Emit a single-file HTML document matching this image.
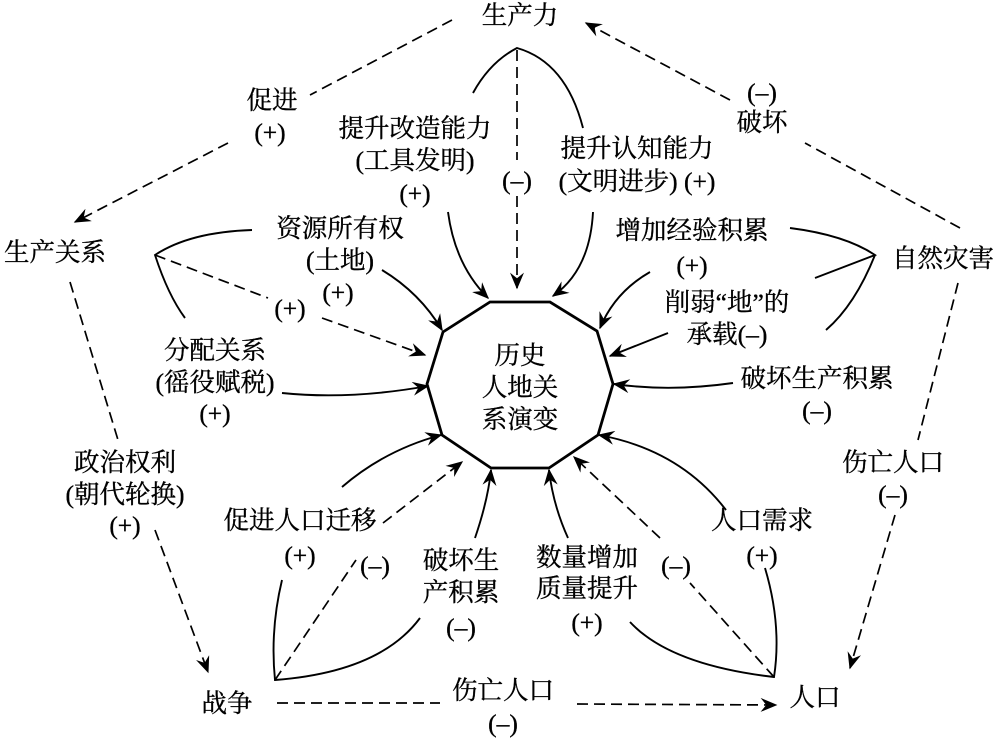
<!DOCTYPE html>
<html><head><meta charset="utf-8"><style>
html,body{margin:0;padding:0;background:#fff}
svg{display:block}
text{font-family:"Liberation Serif","Noto Serif CJK SC",serif;font-size:25.5px;fill:#000;stroke:#000;stroke-width:0.35;text-anchor:middle}
.s{fill:none;stroke:#000;stroke-width:1.9}
.d{fill:none;stroke:#000;stroke-width:1.7;stroke-dasharray:11 6}
</style></head><body>
<svg width="1000" height="738" viewBox="0 0 1000 738">
<defs>
<marker id="a" viewBox="0 0 12 10" refX="11" refY="5" markerWidth="17" markerHeight="14" markerUnits="userSpaceOnUse" orient="auto">
<path d="M0,0 L12,5 L0,10 L4,5 Z" fill="#000"/></marker>
</defs>
<polygon points="490,302 550,302 597,331 613,384 598,435 549,468 491,468 442,435 427,384 443,332" fill="none" stroke="#000" stroke-width="2.8"/>
<text x="520" y="364">历史</text>
<text x="520" y="396">人地关</text>
<text x="520" y="428">系演变</text>

<path class="d" d="M452,20 L310,95"/><path class="d" d="M228,143 L75,222" marker-end="url(#a)"/>
<path class="d" d="M960,228 L805,143"/><path class="d" d="M730,100 L586,23" marker-end="url(#a)"/>
<path class="d" d="M70,282 L118,440"/><path class="d" d="M155,530 L208,672" marker-end="url(#a)"/>
<path class="d" d="M958,283 L918,440"/><path class="d" d="M895,515 L850,668" marker-end="url(#a)"/>
<path class="d" d="M277,703 L440,703"/><path class="d" d="M577,704 L776,705" marker-end="url(#a)"/>

<path class="s" d="M473,93 Q490,62 517,48 Q566,62 583,128"/>
<path class="d" d="M517,50 L517,160"/><path class="d" d="M517,196 L517,288" marker-end="url(#a)"/>
<path class="s" d="M448,212 Q455,265 488,298" marker-end="url(#a)"/>
<path class="s" d="M593,212 Q590,270 553,296" marker-end="url(#a)"/>

<path class="s" d="M252,230 Q190,232 155,255 Q168,295 185,318"/>
<path class="d" d="M155,255 L268,298"/><path class="d" d="M322,318 L425,355" marker-end="url(#a)"/>
<path class="s" d="M382,270 Q420,293 442,330" marker-end="url(#a)"/>
<path class="s" d="M282,393 Q350,400 428,386" marker-end="url(#a)"/>

<path class="s" d="M790,228 Q845,235 875,255 L815,278"/>
<path class="s" d="M875,255 Q855,305 826,330"/>
<path class="s" d="M650,272 Q615,292 600,328" marker-end="url(#a)"/>
<path class="s" d="M668,333 L610,356" marker-end="url(#a)"/>
<path class="s" d="M733,383 Q670,392 614,384" marker-end="url(#a)"/>

<path class="s" d="M282,580 Q270,630 275,680 Q380,672 420,618"/>
<path class="d" d="M275,680 L356,560"/><path class="d" d="M383,523 L462,462" marker-end="url(#a)"/>
<path class="s" d="M342,487 Q385,450 441,435" marker-end="url(#a)"/>
<path class="s" d="M475,538 Q488,500 491,470" marker-end="url(#a)"/>

<path class="s" d="M765,568 Q782,625 774,677 Q670,665 630,622"/>
<path class="d" d="M774,677 L690,583"/><path class="d" d="M660,538 L574,457" marker-end="url(#a)"/>
<path class="s" d="M568,538 Q553,505 549,470" marker-end="url(#a)"/>
<path class="s" d="M726,510 Q680,450 599,435" marker-end="url(#a)"/>

<text x="520" y="24">生产力</text>
<text x="272" y="109">促进</text><text x="270" y="141">(+)</text>
<text x="415" y="137">提升改造能力</text><text x="415" y="169">(工具发明)</text><text x="415" y="202">(+)</text>
<text x="517" y="189">(–)</text>
<text x="637" y="157">提升认知能力</text><text x="637" y="190">(文明进步) (+)</text>
<text x="762" y="101">(–)</text><text x="762" y="131">破坏</text>
<text x="55" y="261">生产关系</text>
<text x="340" y="237">资源所有权</text><text x="340" y="269">(土地)</text><text x="338" y="301">(+)</text>
<text x="290" y="317">(+)</text>
<text x="692" y="239">增加经验积累</text><text x="692" y="274">(+)</text>
<text x="943" y="267">自然灾害</text>
<text x="727" y="311">削弱“地”的</text><text x="727" y="343">承载(–)</text>
<text x="215" y="359">分配关系</text><text x="215" y="391">(徭役赋税)</text><text x="215" y="422">(+)</text>
<text x="817" y="387">破坏生产积累</text><text x="817" y="419">(–)</text>
<text x="125" y="471">政治权利</text><text x="125" y="503">(朝代轮换)</text><text x="125" y="534">(+)</text>
<text x="893" y="471">伤亡人口</text><text x="893" y="503">(–)</text>
<text x="300" y="529">促进人口迁移</text><text x="300" y="564">(+)</text>
<text x="375" y="574">(–)</text>
<text x="461" y="569">破坏生</text><text x="461" y="601">产积累</text><text x="461" y="636">(–)</text>
<text x="587" y="566">数量增加</text><text x="587" y="597">质量提升</text><text x="587" y="631">(+)</text>
<text x="676" y="574">(–)</text>
<text x="762" y="529">人口需求</text><text x="762" y="564">(+)</text>
<text x="227" y="712">战争</text>
<text x="815" y="706">人口</text>
<text x="503" y="699">伤亡人口</text><text x="503" y="732">(–)</text>
</svg>
</body></html>
